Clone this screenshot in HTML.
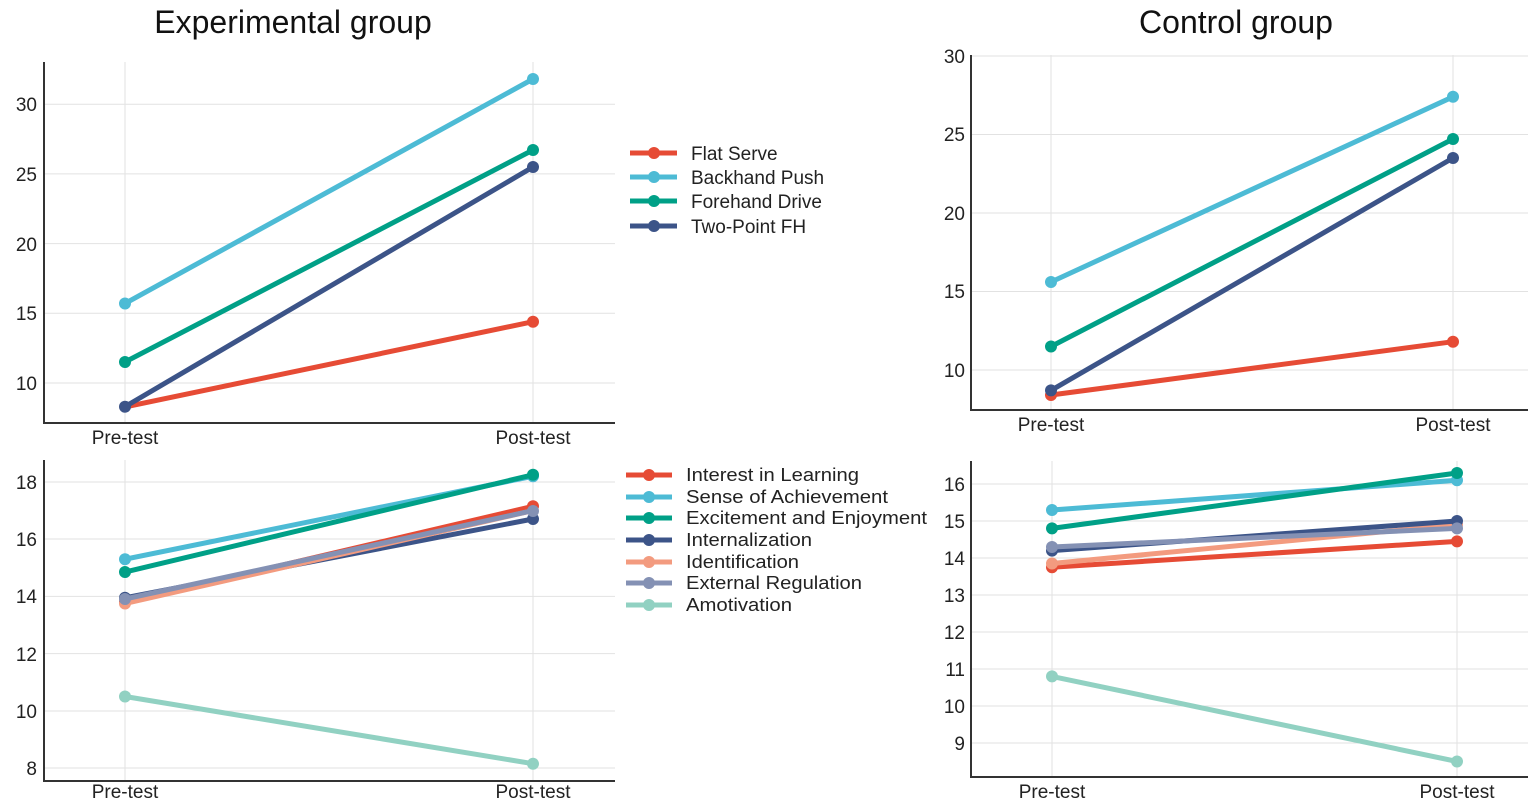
<!DOCTYPE html>
<html><head><meta charset="utf-8"><style>
html,body{margin:0;padding:0;background:#fff;}
svg{display:block;font-family:"Liberation Sans",Arial,sans-serif;}
</style></head><body>
<svg width="1535" height="803" viewBox="0 0 1535 803" xmlns="http://www.w3.org/2000/svg">
<rect width="1535" height="803" fill="#fff"/>
<text x="293" y="33" font-size="32" text-anchor="middle" fill="#111">Experimental group</text>
<text x="1236" y="33" font-size="32" text-anchor="middle" fill="#111">Control group</text>

<g stroke="#e2e2e2" stroke-width="1">
<line x1="44" x2="615" y1="383" y2="383"/><line x1="44" x2="615" y1="313.3" y2="313.3"/><line x1="44" x2="615" y1="243.6" y2="243.6"/><line x1="44" x2="615" y1="173.9" y2="173.9"/><line x1="44" x2="615" y1="104.2" y2="104.2"/>
<line x1="125" x2="125" y1="62" y2="423"/><line x1="533" x2="533" y1="62" y2="423"/>
<line x1="971" x2="1528" y1="370" y2="370"/><line x1="971" x2="1528" y1="291.5" y2="291.5"/><line x1="971" x2="1528" y1="213" y2="213"/><line x1="971" x2="1528" y1="134.5" y2="134.5"/><line x1="971" x2="1528" y1="56" y2="56"/>
<line x1="1051" x2="1051" y1="55" y2="410"/><line x1="1453" x2="1453" y1="55" y2="410"/>
<line x1="44" x2="615" y1="482" y2="482"/><line x1="44" x2="615" y1="539" y2="539"/><line x1="44" x2="615" y1="596.4" y2="596.4"/><line x1="44" x2="615" y1="653.6" y2="653.6"/><line x1="44" x2="615" y1="711" y2="711"/><line x1="44" x2="615" y1="768" y2="768"/>
<line x1="125" x2="125" y1="460" y2="781"/><line x1="533" x2="533" y1="460" y2="781"/>
<line x1="971" x2="1528" y1="484" y2="484"/><line x1="971" x2="1528" y1="521" y2="521"/><line x1="971" x2="1528" y1="558" y2="558"/><line x1="971" x2="1528" y1="595" y2="595"/><line x1="971" x2="1528" y1="632" y2="632"/><line x1="971" x2="1528" y1="669" y2="669"/><line x1="971" x2="1528" y1="706" y2="706"/><line x1="971" x2="1528" y1="743" y2="743"/>
<line x1="1052" x2="1052" y1="461" y2="777"/><line x1="1457" x2="1457" y1="461" y2="777"/>
</g>

<g stroke="#333" stroke-width="2" fill="none">
<polyline points="44,62 44,423 615,423"/>
<polyline points="971,55 971,410 1528,410"/>
<polyline points="44,460 44,781 615,781"/>
<polyline points="971,461 971,777 1528,777"/>
</g>

<g font-size="19" fill="#222" text-anchor="end">
<text x="37" y="390">10</text><text x="37" y="320">15</text><text x="37" y="251">20</text><text x="37" y="181">25</text><text x="37" y="111">30</text>
<text x="965" y="377">10</text><text x="965" y="298">15</text><text x="965" y="220">20</text><text x="965" y="141">25</text><text x="965" y="63">30</text>
<text x="37" y="489">18</text><text x="37" y="546">16</text><text x="37" y="603">14</text><text x="37" y="661">12</text><text x="37" y="718">10</text><text x="37" y="775">8</text>
<text x="965" y="491">16</text><text x="965" y="528">15</text><text x="965" y="565">14</text><text x="965" y="602">13</text><text x="965" y="639">12</text><text x="965" y="676">11</text><text x="965" y="713">10</text><text x="965" y="750">9</text>
</g>
<g font-size="19" fill="#222" text-anchor="middle">
<text x="125" y="444">Pre-test</text><text x="533" y="444">Post-test</text>
<text x="1051" y="431">Pre-test</text><text x="1453" y="431">Post-test</text>
<text x="125" y="798">Pre-test</text><text x="533" y="798">Post-test</text>
<text x="1052" y="798">Pre-test</text><text x="1457" y="798">Post-test</text>
</g>

<g stroke-width="5" stroke-linecap="round">
<g stroke="#4dbbd5" fill="#4dbbd5"><line x1="125" y1="303.5" x2="533" y2="79"/><circle cx="125" cy="303.5" r="6" stroke="none"/><circle cx="533" cy="79" r="6" stroke="none"/></g>
<g stroke="#00a087" fill="#00a087"><line x1="125" y1="362" x2="533" y2="150"/><circle cx="125" cy="362" r="6" stroke="none"/><circle cx="533" cy="150" r="6" stroke="none"/></g>
<g stroke="#e64b35" fill="#e64b35"><line x1="125" y1="407" x2="533" y2="321.7"/><circle cx="533" cy="321.7" r="6" stroke="none"/></g>
<g stroke="#3c5488" fill="#3c5488"><line x1="125" y1="406.7" x2="533" y2="167"/><circle cx="125" cy="406.7" r="6" stroke="none"/><circle cx="533" cy="167" r="6" stroke="none"/></g>
<g stroke="#4dbbd5" fill="#4dbbd5"><line x1="1051" y1="282" x2="1453" y2="96.8"/><circle cx="1051" cy="282" r="6" stroke="none"/><circle cx="1453" cy="96.8" r="6" stroke="none"/></g>
<g stroke="#00a087" fill="#00a087"><line x1="1051" y1="346.5" x2="1453" y2="139"/><circle cx="1051" cy="346.5" r="6" stroke="none"/><circle cx="1453" cy="139" r="6" stroke="none"/></g>
<g stroke="#e64b35" fill="#e64b35"><line x1="1051" y1="395" x2="1453" y2="341.7"/><circle cx="1051" cy="395" r="6" stroke="none"/><circle cx="1453" cy="341.7" r="6" stroke="none"/></g>
<g stroke="#3c5488" fill="#3c5488"><line x1="1051" y1="390.4" x2="1453" y2="158"/><circle cx="1051" cy="390.4" r="6" stroke="none"/><circle cx="1453" cy="158" r="6" stroke="none"/></g>
<g stroke="#91d1c2" fill="#91d1c2"><line x1="125" y1="696.5" x2="533" y2="763.7"/><circle cx="125" cy="696.5" r="6" stroke="none"/><circle cx="533" cy="763.7" r="6" stroke="none"/></g>
<g stroke="#4dbbd5" fill="#4dbbd5"><line x1="125" y1="559.2" x2="533" y2="476.3"/><circle cx="125" cy="559.2" r="6" stroke="none"/><circle cx="533" cy="476.3" r="6" stroke="none"/></g>
<g stroke="#00a087" fill="#00a087"><line x1="125" y1="572" x2="533" y2="474.8"/><circle cx="125" cy="572" r="6" stroke="none"/><circle cx="533" cy="474.8" r="6" stroke="none"/></g>
<g stroke="#e64b35" fill="#e64b35"><line x1="125" y1="602" x2="533" y2="506.3"/><circle cx="125" cy="602" r="6" stroke="none"/><circle cx="533" cy="506.3" r="6" stroke="none"/></g>
<g stroke="#3c5488" fill="#3c5488"><line x1="125" y1="597.8" x2="533" y2="519"/><circle cx="125" cy="597.8" r="6" stroke="none"/><circle cx="533" cy="519" r="6" stroke="none"/></g>
<g stroke="#f39b7f" fill="#f39b7f"><line x1="125" y1="603.5" x2="533" y2="510.6"/><circle cx="125" cy="603.5" r="6" stroke="none"/></g>
<g stroke="#8491b4" fill="#8491b4"><line x1="125" y1="599" x2="533" y2="510.6"/><circle cx="125" cy="599" r="6" stroke="none"/><circle cx="533" cy="511" r="6" stroke="none"/></g>
<g stroke="#91d1c2" fill="#91d1c2"><line x1="1052" y1="676.4" x2="1457" y2="761.5"/><circle cx="1052" cy="676.4" r="6" stroke="none"/><circle cx="1457" cy="761.5" r="6" stroke="none"/></g>
<g stroke="#4dbbd5" fill="#4dbbd5"><line x1="1052" y1="510" x2="1457" y2="480.3"/><circle cx="1052" cy="510" r="6" stroke="none"/><circle cx="1457" cy="480.3" r="6" stroke="none"/></g>
<g stroke="#00a087" fill="#00a087"><line x1="1052" y1="528.4" x2="1457" y2="473"/><circle cx="1052" cy="528.4" r="6" stroke="none"/><circle cx="1457" cy="473" r="6" stroke="none"/></g>
<g stroke="#e64b35" fill="#e64b35"><line x1="1052" y1="567.2" x2="1457" y2="541.4"/><circle cx="1052" cy="567.2" r="6" stroke="none"/><circle cx="1457" cy="541.4" r="6" stroke="none"/></g>
<g stroke="#f39b7f" fill="#f39b7f"><line x1="1052" y1="563.5" x2="1457" y2="524.7"/><circle cx="1052" cy="563.5" r="6" stroke="none"/><circle cx="1457" cy="524.7" r="6" stroke="none"/></g>
<g stroke="#3c5488" fill="#3c5488"><line x1="1052" y1="550.6" x2="1457" y2="521"/><circle cx="1052" cy="550.6" r="6" stroke="none"/><circle cx="1457" cy="521" r="6" stroke="none"/></g>
<g stroke="#8491b4" fill="#8491b4"><line x1="1052" y1="547" x2="1457" y2="528.4"/><circle cx="1052" cy="547" r="6" stroke="none"/><circle cx="1457" cy="528.4" r="6" stroke="none"/></g>
</g>

<g stroke-width="5">
<g stroke="#e64b35" fill="#e64b35"><line x1="630" x2="677" y1="153" y2="153"/><circle cx="654" cy="153" r="6" stroke="none"/></g>
<g stroke="#4dbbd5" fill="#4dbbd5"><line x1="630" x2="677" y1="177" y2="177"/><circle cx="654" cy="177" r="6" stroke="none"/></g>
<g stroke="#00a087" fill="#00a087"><line x1="630" x2="677" y1="201" y2="201"/><circle cx="654" cy="201" r="6" stroke="none"/></g>
<g stroke="#3c5488" fill="#3c5488"><line x1="630" x2="677" y1="226" y2="226"/><circle cx="654" cy="226" r="6" stroke="none"/></g>
<g stroke="#e64b35" fill="#e64b35"><line x1="626" x2="672" y1="475" y2="475"/><circle cx="649" cy="475" r="6" stroke="none"/></g>
<g stroke="#4dbbd5" fill="#4dbbd5"><line x1="626" x2="672" y1="497" y2="497"/><circle cx="649" cy="497" r="6" stroke="none"/></g>
<g stroke="#00a087" fill="#00a087"><line x1="626" x2="672" y1="518" y2="518"/><circle cx="649" cy="518" r="6" stroke="none"/></g>
<g stroke="#3c5488" fill="#3c5488"><line x1="626" x2="672" y1="540" y2="540"/><circle cx="649" cy="540" r="6" stroke="none"/></g>
<g stroke="#f39b7f" fill="#f39b7f"><line x1="626" x2="672" y1="562" y2="562"/><circle cx="649" cy="562" r="6" stroke="none"/></g>
<g stroke="#8491b4" fill="#8491b4"><line x1="626" x2="672" y1="583" y2="583"/><circle cx="649" cy="583" r="6" stroke="none"/></g>
<g stroke="#91d1c2" fill="#91d1c2"><line x1="626" x2="672" y1="605" y2="605"/><circle cx="649" cy="605" r="6" stroke="none"/></g>
</g>
<g font-size="19" fill="#222">
<text x="691" y="160">Flat Serve</text>
<text x="691" y="184">Backhand Push</text>
<text x="691" y="208">Forehand Drive</text>
<text x="691" y="233">Two-Point FH</text>
</g>
<g font-size="18" fill="#222" textLength="0">
<text x="686" y="481" textLength="173" lengthAdjust="spacingAndGlyphs">Interest in Learning</text>
<text x="686" y="503" textLength="202" lengthAdjust="spacingAndGlyphs">Sense of Achievement</text>
<text x="686" y="524" textLength="241" lengthAdjust="spacingAndGlyphs">Excitement and Enjoyment</text>
<text x="686" y="546" textLength="126" lengthAdjust="spacingAndGlyphs">Internalization</text>
<text x="686" y="568" textLength="113" lengthAdjust="spacingAndGlyphs">Identification</text>
<text x="686" y="589" textLength="176" lengthAdjust="spacingAndGlyphs">External Regulation</text>
<text x="686" y="611" textLength="106" lengthAdjust="spacingAndGlyphs">Amotivation</text>
</g>
</svg>
</body></html>
